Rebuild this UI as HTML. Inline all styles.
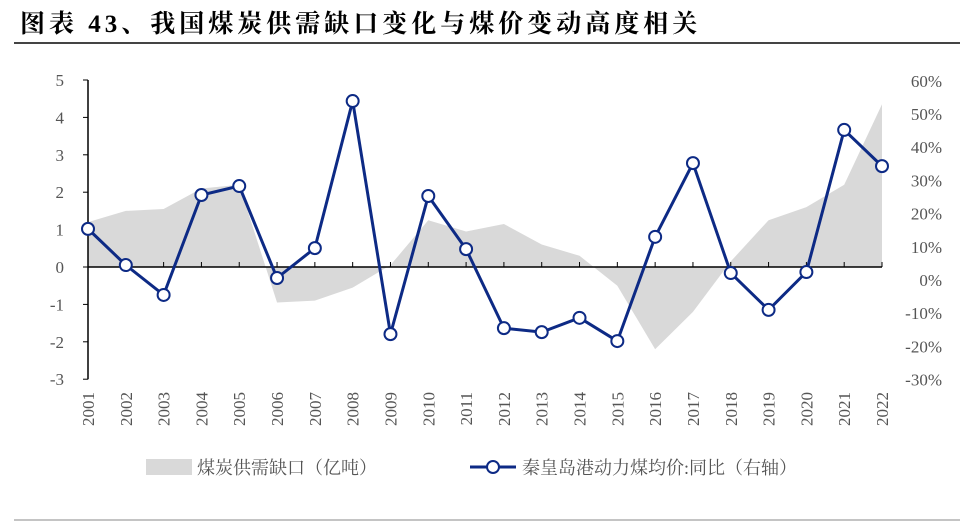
<!DOCTYPE html>
<html><head><meta charset="utf-8"><style>
body{margin:0;background:#fff;}
svg text{font-family:"Liberation Serif","Noto Serif CJK SC",serif;}
</style></head><body>
<svg width="960" height="523" viewBox="0 0 960 523">
<text x="20" y="32" font-size="25" letter-spacing="4" font-weight="bold" fill="#000" font-family="'Noto Serif CJK SC','Noto Sans CJK SC',serif">图表 43、我国煤炭供需缺口变化与煤价变动高度相关</text>
<line x1="14" y1="43" x2="960" y2="43" stroke="#444" stroke-width="2"/>
<line x1="14" y1="520" x2="960" y2="520" stroke="#888" stroke-width="1"/>
<g id="g"></g>
</svg>
<script>
const years=["2001","2002","2003","2004","2005","2006","2007","2008","2009","2010","2011","2012","2013","2014","2015","2016","2017","2018","2019","2020","2021","2022"];
const gap=[1.2,1.5,1.55,2.1,2.2,-0.95,-0.9,-0.55,0.05,1.25,0.95,1.15,0.6,0.3,-0.5,-2.2,-1.2,0.15,1.25,1.6,2.2,4.35];
const price=[15.4,4.5,-4.5,25.6,28.3,0.6,9.6,53.9,-16.3,25.3,9.3,-14.5,-15.7,-11.4,-18.4,13,35.2,2.1,-9,2.4,45.2,34.3];
const leftTicks=[5,4,3,2,1,0,-1,-2,-3];
const rightTicks=[60,50,40,30,20,10,0,-10,-20,-30];
const NS="http://www.w3.org/2000/svg",g=document.getElementById('g');
const x=i=>88+i*(794/(years.length-1));
const yL=v=>267-v*37.4;
const yR=v=>280-v*3.32;
function mk(t,a){const e=document.createElementNS(NS,t);for(const k in a)e.setAttribute(k,a[k]);g.appendChild(e);return e;}
let d='M'+x(0)+','+yL(0);gap.forEach((v,i)=>d+=' L'+x(i)+','+yL(v));d+=' L'+x(gap.length-1)+','+yL(0)+'Z';
let area=mk('path',{d:d,fill:'#d9d9d9'});


let ax=mk('line',{x1:88,y1:yL(5),x2:88,y2:yL(-3),stroke:'#000','stroke-width':1.5});


leftTicks.forEach(v=>{mk('line',{x1:83,y1:yL(v),x2:88,y2:yL(v),stroke:'#000'});
 let t=mk('text',{x:64,y:yL(v)+6,'font-size':17,fill:'#555','text-anchor':'end'});t.textContent=v;
 
 });
rightTicks.forEach(v=>{let t=mk('text',{x:942,y:yR(v)+6,'font-size':17,fill:'#555','text-anchor':'end'});t.textContent=v+'%';
 
 });
let z=mk('line',{x1:88,y1:yL(0),x2:882,y2:yL(0),stroke:'#000','stroke-width':1.5});


years.forEach((yr,i)=>{mk('line',{x1:x(i),y1:yL(0)-5,x2:x(i),y2:yL(0),stroke:'#000'});
 let t=mk('text',{x:0,y:0,'font-size':17,fill:'#555','text-anchor':'end',transform:`translate(${x(i)+6},${392}) rotate(-90)`});t.textContent=yr;
 
 });
let ld='';price.forEach((v,i)=>ld+=(i?' L':'M')+x(i)+','+yR(v));
let ln=mk('path',{d:ld,fill:'none',stroke:'#0d2a85','stroke-width':3});


price.forEach((v,i)=>{let c=mk('circle',{cx:x(i),cy:yR(v),r:6,fill:'#fff',stroke:'#0d2a85','stroke-width':2});
 
 });
let lr=mk('rect',{x:146,y:459,width:46,height:16,fill:'#d9d9d9'});


let lt=mk('text',{x:197,y:474,'font-size':18,fill:'#555'});lt.textContent='煤炭供需缺口（亿吨）';


let ll=mk('line',{x1:470,y1:467,x2:516,y2:467,stroke:'#0d2a85','stroke-width':3});


let lc=mk('circle',{cx:493,cy:467,r:6,fill:'#fff',stroke:'#0d2a85','stroke-width':2});


let lt2=mk('text',{x:522,y:474,'font-size':18,fill:'#555'});lt2.textContent='秦皇岛港动力煤均价:同比（右轴）';


</script>
</body></html>
